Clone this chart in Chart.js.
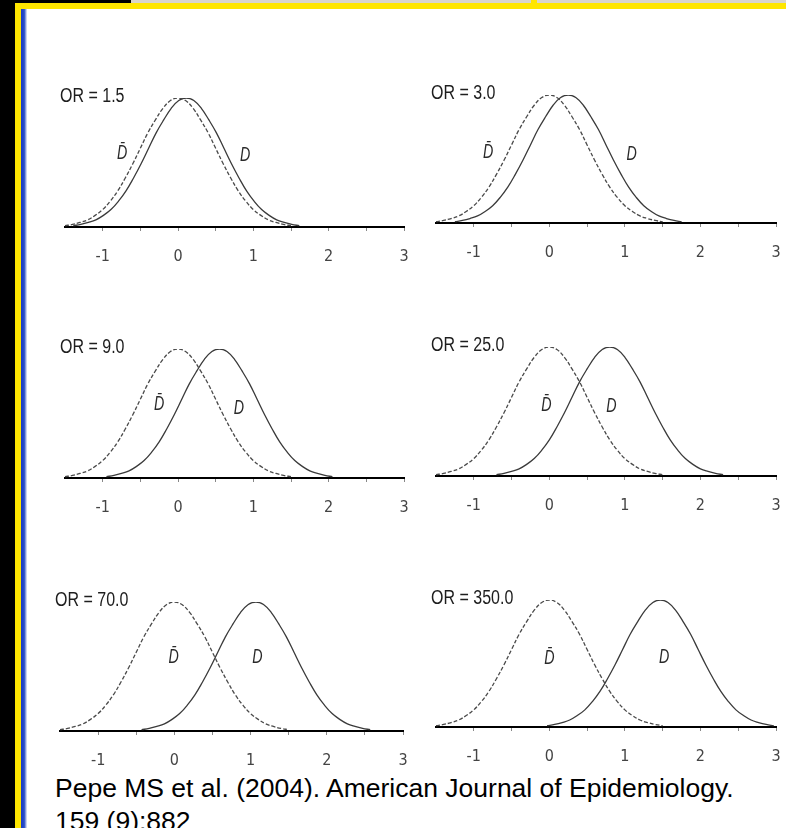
<!DOCTYPE html>
<html>
<head>
<meta charset="utf-8">
<title>Distributions of a marker in cases and controls for several odds ratios</title>
<script src="https://cdn.jsdelivr.net/npm/chart.js@4.4.1/dist/chart.umd.min.js"></script>
<style>
  html, body { margin: 0; padding: 0; }
  body {
    width: 786px; height: 828px; position: relative; overflow: hidden;
    background: #fff; font-family: "Liberation Sans", Arial, sans-serif;
  }
  .frame { position: absolute; }
  canvas { position: absolute; }
  #caption {
    position: absolute; left: 55px; top: 772px;
    font-size: 26.5px; line-height: 33px; color: #000; white-space: nowrap;
  }
</style>
</head>
<body>
<!-- slide frame -->
<div class="frame" style="left:0;top:0;width:15px;height:828px;background:#000"></div>
<div class="frame" style="left:0;top:0;width:131px;height:3px;background:#000"></div>
<div class="frame" style="left:131px;top:0;width:400px;height:3px;background:#d9d5cc"></div>
<div class="frame" style="left:531px;top:0;width:6px;height:3px;background:#ffe600"></div>
<div class="frame" style="left:537px;top:0;width:249px;height:3px;background:#d9d5cc"></div>
<div class="frame" style="left:15px;top:3px;width:771px;height:6px;background:#ffe600"></div>
<div class="frame" style="left:15px;top:3px;width:6px;height:825px;background:#ffe600"></div>
<div class="frame" style="left:21px;top:9px;width:6px;height:819px;background:linear-gradient(to right,#1a3cc2 0%,#2b4fc9 55%,#eef1fa 100%)"></div>

<div id="caption">Pepe MS et al. (2004). American Journal of Epidemiology.<br>159 (9):882</div>

<script>
// Odds ratio shown in each panel
const oddsRatioLabels = ['1.5', '3.0', '9.0', '25.0', '70.0', '350.0'];

// Centre of the non-diseased (D-bar) and diseased (D) curves, per panel
const nonDiseasedMeans = [0, 0, 0, 0, 0, 0];
const diseasedMeans = [0.11, 0.25, 0.55, 0.80, 1.07, 1.47];

// Shape of one density curve: relative height at each distance from its centre
const curveOffsets = [-1.5, -1.4, -1.3, -1.2, -1.1, -1.0, -0.9, -0.8, -0.7, -0.6, -0.5, -0.4, -0.3, -0.2, -0.1, 0,
                      0.1, 0.2, 0.3, 0.4, 0.5, 0.6, 0.7, 0.8, 0.9, 1.0, 1.1, 1.2, 1.3, 1.4, 1.5];
const curveHeights = [0.01, 0.02, 0.035, 0.055, 0.09, 0.135, 0.2, 0.28, 0.38, 0.49, 0.61, 0.73, 0.83, 0.92, 0.98, 1.0,
                      0.98, 0.92, 0.83, 0.73, 0.61, 0.49, 0.38, 0.28, 0.2, 0.135, 0.09, 0.055, 0.035, 0.02, 0.01];

// Axis ticks
const tickValues = [-1, 0, 1, 2, 3];
const tickLabels = ['-1', '0', '1', '2', '3'];
const minorTickValues = [-0.5, 0.5, 1.5, 2.5];

// Plot area of each panel on the page (x from -1.5 to 3, y from 0 to curve peak)
const panelBoxes = [
  { left: 65,  right: 404, top: 98,  bottom: 227 },
  { left: 436, right: 776, top: 95,  bottom: 223 },
  { left: 65,  right: 404, top: 349, bottom: 478 },
  { left: 436, right: 776, top: 347, bottom: 476 },
  { left: 60,  right: 403, top: 602, bottom: 731 },
  { left: 436, right: 776, top: 600, bottom: 727 }
];

// Where the D-bar and D letters sit, in axis units
const letterSpots = [
  { bar: { x: -0.74, y: 0.57 }, d: { x: 0.89, y: 0.56 } },
  { bar: { x: -0.81, y: 0.55 }, d: { x: 1.09, y: 0.54 } },
  { bar: { x: -0.25, y: 0.57 }, d: { x: 0.81, y: 0.54 } },
  { bar: { x: -0.04, y: 0.55 }, d: { x: 0.82, y: 0.54 } },
  { bar: { x: -0.01, y: 0.57 }, d: { x: 1.09, y: 0.57 } },
  { bar: { x: 0.00,  y: 0.54 }, d: { x: 1.52, y: 0.55 } }
];

const PAD = { left: 30, right: 30, top: 20 };
const AXIS_HEIGHT = 42;
const SANS = '"Liberation Sans", Arial, sans-serif';
const CONDENSED = '"DejaVu Sans Condensed", "Liberation Sans", sans-serif';

// Text drawn with a horizontal squeeze, like the narrow face of the figure
function narrowText(ctx, text, x, y, squeeze) {
  ctx.save();
  ctx.translate(x, y);
  ctx.scale(squeeze, 1);
  ctx.fillText(text, 0, 0);
  ctx.restore();
}

// Draws the "OR = ..." heading and the D-bar / D letters of a panel
const panelTextPlugin = {
  id: 'panelText',
  afterDatasetsDraw(chart, args, opts) {
    const ctx = chart.ctx;
    const area = chart.chartArea;
    const xs = chart.scales.x, ys = chart.scales.y;
    ctx.save();
    ctx.fillStyle = '#1e1e1e';
    ctx.textBaseline = 'middle';
    ctx.textAlign = 'left';
    ctx.font = '20px ' + SANS;
    narrowText(ctx, 'OR = ' + opts.or, area.left - 5, area.top - 2, 0.8);

    ctx.fillStyle = '#2a2a2a';
    ctx.textAlign = 'center';
    ctx.font = 'italic 21px ' + SANS;
    const bx = xs.getPixelForValue(opts.spots.bar.x);
    const by = ys.getPixelForValue(opts.spots.bar.y);
    narrowText(ctx, 'D\u0304', bx, by, 0.68);
    const dx = xs.getPixelForValue(opts.spots.d.x);
    const dy = ys.getPixelForValue(opts.spots.d.y);
    narrowText(ctx, 'D', dx, dy, 0.68);
    ctx.restore();
  }
};

panelBoxes.forEach((box, p) => {
  const canvas = document.createElement('canvas');
  const w = box.right - box.left + PAD.left + PAD.right;
  const h = box.bottom - box.top + PAD.top + AXIS_HEIGHT;
  canvas.width = w;
  canvas.height = h;
  canvas.style.left = (box.left - PAD.left) + 'px';
  canvas.style.top = (box.top - PAD.top) + 'px';
  canvas.style.width = w + 'px';
  canvas.style.height = h + 'px';
  document.body.appendChild(canvas);

  const nonDiseased = curveOffsets.map((d, i) => ({ x: nonDiseasedMeans[p] + d, y: curveHeights[i] }));
  const diseased = curveOffsets.map((d, i) => ({ x: diseasedMeans[p] + d, y: curveHeights[i] }));
  const allTicks = tickValues.concat(minorTickValues).sort((a, b) => a - b);

  new Chart(canvas, {
    type: 'line',
    data: {
      datasets: [
        {
          label: 'D\u0304', data: nonDiseased,
          borderColor: '#4a4a4a', borderWidth: 1.3, borderDash: [4, 2],
          pointRadius: 0, tension: 0.4, fill: false
        },
        {
          label: 'D', data: diseased,
          borderColor: '#3a3a3a', borderWidth: 1.3,
          pointRadius: 0, tension: 0.4, fill: false
        }
      ]
    },
    options: {
      responsive: false,
      animation: false,
      devicePixelRatio: 1,
      layout: { padding: { left: PAD.left, right: PAD.right, top: PAD.top, bottom: 0 } },
      plugins: {
        legend: { display: false },
        tooltip: { enabled: false },
        panelText: { or: oddsRatioLabels[p], spots: letterSpots[p] }
      },
      scales: {
        x: {
          type: 'linear', position: 'bottom', min: -1.5, max: 3,
          afterBuildTicks(scale) { scale.ticks = allTicks.map(v => ({ value: v })); },
          afterFit(scale) { scale.height = AXIS_HEIGHT; },
          grid: { drawOnChartArea: false, drawTicks: true, tickLength: 4, color: '#888', lineWidth: 1 },
          border: { display: true, color: '#000', width: 2 },
          ticks: {
            autoSkip: false, maxRotation: 0, padding: 16, color: '#444',
            font: { family: CONDENSED, size: 16 },
            callback(value) {
              const i = tickValues.indexOf(value);
              return i >= 0 ? tickLabels[i] : '';
            }
          }
        },
        y: { display: false, min: 0, max: 1 }
      }
    },
    plugins: [panelTextPlugin]
  });
});
</script>
</body>
</html>
